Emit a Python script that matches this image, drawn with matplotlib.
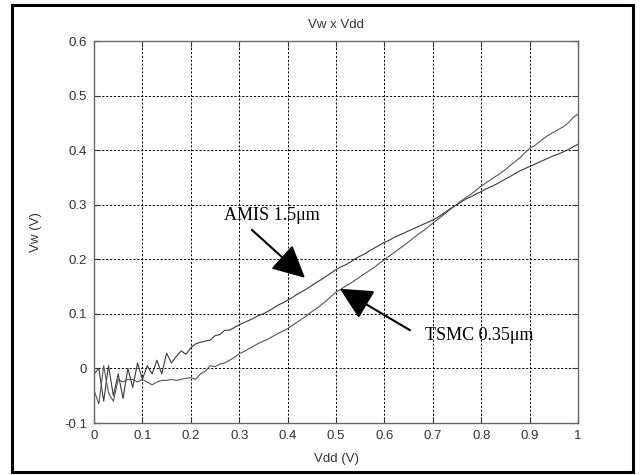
import numpy as np
import matplotlib
matplotlib.use('Agg')
import matplotlib.pyplot as plt
from matplotlib.patches import Rectangle

# supply voltage sweep, 10 mV steps
vdd = np.linspace(0, 1, 101)

# Vw for the AMIS 1.5um process
vw_amis = [-0.010, 0.000, -0.060, 0.005, -0.050, -0.010, -0.055, 0.000, -0.035, 0.010,
           -0.020, 0.005, -0.010, 0.015, -0.010, 0.028, 0.010, 0.022, 0.032, 0.026,
           0.038, 0.045, 0.048, 0.050, 0.052, 0.060, 0.062, 0.070, 0.070, 0.075,
           0.080, 0.084, 0.088, 0.092, 0.097, 0.100, 0.105, 0.110, 0.116, 0.120,
           0.125, 0.130, 0.136, 0.141, 0.146, 0.152, 0.158, 0.163, 0.169, 0.175,
           0.181, 0.186, 0.190, 0.195, 0.201, 0.206, 0.210, 0.216, 0.221, 0.226,
           0.231, 0.235, 0.240, 0.244, 0.248, 0.252, 0.256, 0.260, 0.264, 0.268,
           0.272, 0.277, 0.283, 0.289, 0.295, 0.300, 0.306, 0.311, 0.315, 0.320,
           0.324, 0.329, 0.333, 0.337, 0.342, 0.347, 0.352, 0.357, 0.362, 0.366,
           0.370, 0.374, 0.378, 0.382, 0.386, 0.390, 0.393, 0.397, 0.401, 0.406,
           0.411]

# Vw for the TSMC 0.35um process
vw_tsmc = [-0.040, -0.065, 0.005, -0.045, -0.060, -0.020, -0.025, -0.020, -0.020, -0.025,
           -0.020, -0.025, -0.030, -0.025, -0.022, -0.022, -0.020, -0.022, -0.020, -0.018,
           -0.017, -0.020, -0.010, -0.005, 0.005, 0.003, 0.008, 0.010, 0.015, 0.020,
           0.027, 0.031, 0.036, 0.041, 0.046, 0.050, 0.054, 0.059, 0.064, 0.068,
           0.073, 0.079, 0.085, 0.091, 0.097, 0.104, 0.110, 0.117, 0.124, 0.132,
           0.140, 0.145, 0.151, 0.156, 0.162, 0.168, 0.174, 0.180, 0.186, 0.193,
           0.199, 0.206, 0.212, 0.219, 0.225, 0.232, 0.239, 0.246, 0.252, 0.259,
           0.266, 0.273, 0.280, 0.287, 0.294, 0.301, 0.308, 0.314, 0.320, 0.327,
           0.334, 0.340, 0.346, 0.352, 0.358, 0.364, 0.372, 0.379, 0.386, 0.395,
           0.403, 0.408, 0.415, 0.422, 0.428, 0.433, 0.438, 0.443, 0.450, 0.460,
           0.466]

xticks = np.round(np.arange(0, 1.01, 0.1), 1)
yticks = np.round(np.arange(-0.1, 0.61, 0.1), 1)

sans = 'Liberation Sans'
serif = 'Liberation Serif'
grey = '#333333'

fig = plt.figure(figsize=(6.42, 4.75), dpi=100)
ax = fig.add_axes([94/642, 1-423/475, 484/642, 382/475])

ax.plot(vdd, vw_amis, color='#3a3a3a', lw=0.8)
ax.plot(vdd, vw_tsmc, color='#555555', lw=0.8)

ax.set_xlim(0, 1)
ax.set_ylim(-0.1, 0.6)
ax.set_xticks(xticks)
ax.set_yticks(yticks)
ax.set_xticklabels([f'{t:g}' for t in xticks])
ax.set_yticklabels([f'{t:g}' for t in yticks])
ax.grid(True, color='black', lw=0.7, linestyle=(0, (2.2, 1.8)))
ax.tick_params(direction='in', length=4, top=True, right=True, labelsize=9.5,
               colors=grey, pad=5)
for lab in ax.get_xticklabels() + ax.get_yticklabels():
    lab.set_family(sans)
for s in ax.spines.values():
    s.set_color('#666666')
    s.set_linewidth(1.0)

ax.set_title('Vw x Vdd', fontsize=9.5, family=sans, color=grey, y=1.012)
ax.set_xlabel('Vdd (V)', fontsize=9.5, family=sans, color=grey)
ax.set_ylabel('Vw (V)', fontsize=9.5, family=sans, color=grey)
ax.xaxis.set_label_coords(0.5, -0.078)
ax.yaxis.set_label_coords(-0.108, 0.5)

arrow = dict(arrowstyle='-|>,head_length=1.0,head_width=0.5', mutation_scale=20,
             lw=1.5, color='black', shrinkA=0, shrinkB=0)
ax.annotate('', xy=(0.436, 0.166), xytext=(0.326, 0.254), arrowprops=arrow)
ax.text(0.467, 0.272, 'AMIS 1.5\u03bcm', family=serif, fontsize=13,
        va='baseline', ha='right')
ax.annotate('', xy=(0.508, 0.146), xytext=(0.653, 0.070), arrowprops=arrow)
ax.text(0.684, 0.061, 'TSMC 0.35\u03bcm', family=serif, fontsize=13,
        va='center', ha='left')

# black frame round the whole figure
fig.patches.append(Rectangle((12/642, 1-472/475), 621/642, 467/475, transform=fig.transFigure,
                             fill=False, edgecolor='black', lw=2.2))

fig.savefig('out.png', dpi=100)
